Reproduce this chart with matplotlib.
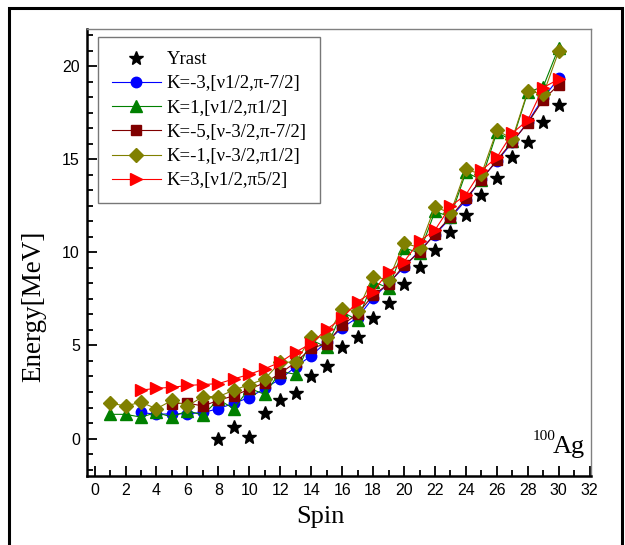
import matplotlib
matplotlib.use("Agg")
import matplotlib.pyplot as plt
from matplotlib.ticker import MultipleLocator
from matplotlib.patches import Rectangle

# donnees (spin -> energie en MeV)
yrast_spin = list(range(8, 31))
yrast_e = [0.0, 0.6, 0.1, 1.35, 2.05, 2.45, 3.35, 3.9, 4.9, 5.45, 6.5, 7.3,
           8.3, 9.2, 10.1, 11.1, 12.0, 13.1, 14.0, 15.1, 15.9, 17.0, 17.9]

k_m3_spin = list(range(3, 31))
k_m3_e = [1.4, 1.3, 1.33, 1.33, 1.4, 1.6, 1.9, 2.2, 2.7, 3.2, 3.85, 4.45,
          5.2, 5.95, 6.5, 7.55, 8.35, 9.2, 10.1, 10.95, 11.85, 12.8, 13.95,
          14.9, 15.9, 17.0, 18.3, 19.35]

k_1_spin = list(range(1, 31))
k_1_e = [1.3, 1.3, 1.15, 1.4, 1.15, 1.5, 1.25, 2.1, 1.6, 2.7, 2.37, 3.6,
         3.45, 5.3, 4.9, 6.8, 6.36, 8.43, 8.08, 10.24, 9.97, 12.2, 11.9,
         14.3, 13.9, 16.45, 16.0, 18.6, 18.9, 21.0]

k_m5_spin = list(range(5, 31))
k_m5_e = [1.87, 1.9, 1.75, 2.05, 2.3, 2.65, 3.0, 3.5, 4.1, 4.85, 5.1, 6.1,
          6.7, 7.7, 8.3, 9.3, 10.0, 11.0, 11.9, 12.9, 13.9, 14.95, 15.95,
          16.95, 18.2, 19.0]

k_m1_spin = list(range(1, 31))
k_m1_e = [1.9, 1.75, 1.95, 1.6, 2.05, 1.75, 2.25, 2.25, 2.6, 2.9, 3.2, 4.1,
          4.1, 5.45, 5.44, 6.95, 6.86, 8.7, 8.52, 10.5, 10.25, 12.45, 12.1,
          14.45, 14.2, 16.55, 16.1, 18.67, 18.5, 20.8]

k_3_spin = list(range(3, 31))
k_3_e = [2.6, 2.7, 2.75, 2.85, 2.9, 2.95, 3.2, 3.45, 3.75, 4.1, 4.65, 5.1,
         5.87, 6.46, 7.35, 7.89, 8.97, 9.5, 10.6, 11.2, 12.47, 13.1, 14.4,
         15.1, 16.4, 17.1, 18.85, 19.3]

labels = ["Yrast", "K=-3,[\u03bd1/2,\u03c0-7/2]", "K=1,[\u03bd1/2,\u03c01/2]",
          "K=-5,[\u03bd-3/2,\u03c0-7/2]", "K=-1,[\u03bd-3/2,\u03c01/2]",
          "K=3,[\u03bd1/2,\u03c05/2]"]

serif = ["Liberation Serif", "DejaVu Serif"]
sans = ["Liberation Sans", "DejaVu Sans"]

fig = plt.figure(figsize=(6.25, 5.45), dpi=100)
ax = fig.add_axes([0.139, 0.127, 0.807, 0.820])

# cadre exterieur
fig.patches.append(Rectangle((0.014, -0.1), 0.981, 1.085, transform=fig.transFigure,
                             fill=False, edgecolor="black", linewidth=2.2))

ax.plot(yrast_spin, yrast_e, linestyle="none", marker="*", color="black",
        markersize=10, label=labels[0], zorder=5)
ax.plot(k_m3_spin, k_m3_e, "-", color="#0000ff", marker="o", markersize=7.5,
        linewidth=0.8, label=labels[1])
ax.plot(k_1_spin, k_1_e, "-", color="#008000", marker="^", markersize=9,
        linewidth=0.8, label=labels[2])
ax.plot(k_m5_spin, k_m5_e, "-", color="#800000", marker="s", markersize=6.5,
        linewidth=0.8, label=labels[3])
ax.plot(k_m1_spin, k_m1_e, "-", color="#808000", marker="D", markersize=7,
        linewidth=0.8, label=labels[4])
ax.plot(k_3_spin, k_3_e, "-", color="#ff0000", marker=">", markersize=9,
        linewidth=0.8, label=labels[5])

ax.set_xlim(-0.5, 32.1)
ax.set_ylim(-2, 22)
ax.xaxis.set_major_locator(MultipleLocator(2))
ax.xaxis.set_minor_locator(MultipleLocator(1))
ax.yaxis.set_major_locator(MultipleLocator(5))
ax.yaxis.set_minor_locator(MultipleLocator(5 / 6))
ax.tick_params(which="both", direction="in", top=False, right=False, width=1.3)
ax.tick_params(which="major", length=7, labelsize=11.5, pad=5)
ax.tick_params(which="minor", length=4)
for lab in ax.get_xticklabels() + ax.get_yticklabels():
    lab.set_family(sans)

for side in ["left", "bottom"]:
    ax.spines[side].set_linewidth(1.8)
for side in ["top", "right"]:
    ax.spines[side].set_linewidth(1.0)
    ax.spines[side].set_color("#808080")

ax.set_xlabel("Spin", family=serif, fontsize=19)
ax.set_ylabel("Energy[MeV]", family=serif, fontsize=19.5)
ax.xaxis.set_label_coords(0.464, -0.092)
ax.yaxis.set_label_coords(-0.105, 0.38)
ax.xaxis.label.set_va("center")
ax.yaxis.label.set_va("center")

leg = ax.legend(loc="upper left", bbox_to_anchor=(0.022, 0.982), borderaxespad=0,
                prop={"family": serif, "size": 13.5}, frameon=True, fancybox=False,
                edgecolor="#555555", handlelength=2.6, labelspacing=0.38,
                handletextpad=0.3, borderpad=0.75)
leg.get_frame().set_linewidth(1.0)

ax.text(31.7, -0.75, "Ag", family=serif, fontsize=19, ha="right", va="baseline")
ax.text(29.8, -0.1, "100", family=serif, fontsize=11, ha="right", va="baseline")

fig.savefig("out.png", dpi=100)
